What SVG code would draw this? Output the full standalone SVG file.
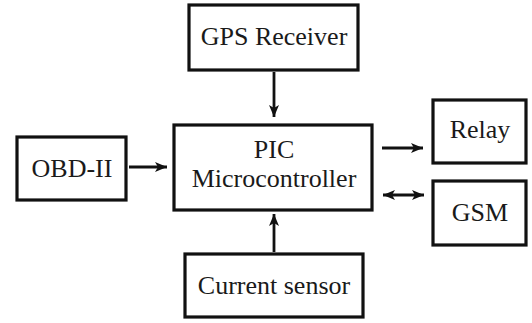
<svg xmlns="http://www.w3.org/2000/svg" width="532" height="323" viewBox="0 0 532 323">
<style>
.box{fill:#fff;stroke:#111;stroke-width:3.2}
.lbl{font-family:"Liberation Serif","Times New Roman",serif;font-size:26px;fill:#1a1a1a;text-anchor:middle}
.conn{stroke:#111;stroke-width:2.8;fill:none}
</style>
<defs>
<marker id="ah" viewBox="0 0 12 10" refX="12" refY="5" markerWidth="12" markerHeight="10" markerUnits="userSpaceOnUse" orient="auto-start-reverse">
<path d="M0,0 L12,5 L0,10 L3,5 Z" fill="#111"/>
</marker>
</defs>
<rect width="532" height="323" fill="#fff"/>
<g id="gps"><rect class="box" x="189" y="5" width="169" height="65"/><text class="lbl" x="274" y="45">GPS Receiver</text></g>
<g id="pic"><rect class="box" x="174" y="125" width="198" height="85"/><text class="lbl" x="274" y="158">PIC</text><text class="lbl" x="274" y="187">Microcontroller</text></g>
<g id="obd"><rect class="box" x="17" y="137" width="109" height="63"/><text class="lbl" x="72" y="177">OBD-II</text></g>
<g id="relay"><rect class="box" x="433" y="100" width="93" height="63"/><text class="lbl" x="480" y="138">Relay</text></g>
<g id="gsm"><rect class="box" x="433" y="181" width="93" height="64"/><text class="lbl" x="480" y="221">GSM</text></g>
<g id="current"><rect class="box" x="185" y="254" width="178" height="63"/><text class="lbl" x="274" y="294">Current sensor</text></g>
<g id="connectors">
<line class="conn" x1="274" y1="72" x2="274" y2="117" marker-end="url(#ah)"/>
<line class="conn" x1="274" y1="252" x2="274" y2="214" marker-end="url(#ah)"/>
<line class="conn" x1="129" y1="167" x2="167" y2="167" marker-end="url(#ah)"/>
<line class="conn" x1="382" y1="148" x2="423" y2="148" marker-end="url(#ah)"/>
<line class="conn" x1="383" y1="195" x2="424" y2="195" marker-start="url(#ah)" marker-end="url(#ah)"/>
</g>
</svg>
